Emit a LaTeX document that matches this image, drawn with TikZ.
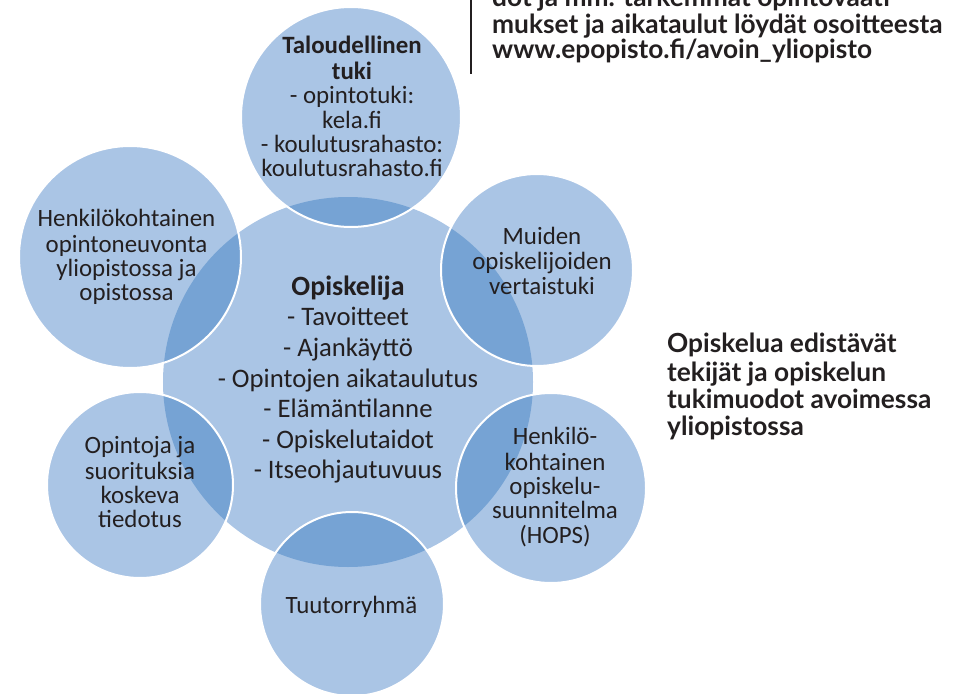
\documentclass[tikz,border=0pt]{standalone}
\usepackage{fontspec}
\setmainfont{Carlito}
\newfontfamily\headfont{Lato}
\definecolor{bubblelight}{RGB}{170,197,229}
\definecolor{bubbledark}{RGB}{118,163,212}
\definecolor{ink}{RGB}{35,31,32}
\begin{document}
\begin{tikzpicture}[x=1bp,y=-1bp,
  bubble/.style={circle, fill=bubblelight, inner sep=0pt, minimum size=#1},
  rim/.style={draw=white, line width=2bp},
  lap/.style={fill=bubbledark},
  bubtext/.style={align=center, text=ink, inner sep=0pt, font=\fontsize{25}{24.4}\selectfont},
  coretext/.style={align=center, text=ink, inner sep=0pt, font=\fontsize{26.8}{30.7}\selectfont},
  headtext/.style={align=left, text=ink, inner sep=0pt, anchor=west, font=\headfont\bfseries\fontsize{26.4}{#1}\selectfont},
  rulestyle/.style={draw=ink, line width=2bp}
]
\useasboundingbox (0,0) rectangle (957,694);
\clip (0,0) rectangle (957,694);

% circles
\node[bubble=370bp] (core) at (348,382) {};
\node[bubble=220bp] (top) at (351,117) {};
\node[bubble=192bp] (peer) at (537,270) {};
\node[bubble=190bp] (hops) at (551,488) {};
\node[bubble=184bp] (tutor) at (352,604) {};
\node[bubble=186bp] (info) at (140,485) {};
\node[bubble=222bp] (advice) at (130,257) {};

% overlaps
\begin{scope}
  \clip (core.center) circle[radius=185];
  \foreach \n/\r in {top/110, peer/96, hops/95, tutor/92, info/93, advice/111}
    \fill[lap] (\n.center) circle[radius=\r];
\end{scope}
\foreach \n/\r in {top/110, peer/96, hops/95, tutor/92, info/93, advice/111}
  \draw[rim] (\n.center) circle[radius=\r];

% texts
\node[coretext] (tcore) at (348,380.9) {\strut{\bfseries\fontsize{28}{30.7}\selectfont Opiskelija}\\- Tavoitteet\\- Ajankäyttö\\- Opintojen aikataulutus\\- Elämäntilanne\\- Opiskelutaidot\\- Itseohjautuvuus\strut};
\node[bubtext] (ttop) at (352,110.2) {\strut\textbf{Taloudellinen}\\\textbf{tuki}\\- opintotuki:\\kela.fi\\- koulutusrahasto:\\koulutusrahasto.fi\strut};
\node[bubtext] (tpeer) at (542,264.2) {\strut Muiden\\opiskelijoiden\\vertaistuki\strut};
\node[bubtext] (thops) at (555,489) {\strut Henkilö-\\kohtainen\\opiskelu-\\suunnitelma\\(HOPS)\strut};
\node[bubtext] (ttutor) at (351.5,608) {\strut Tuutorryhmä\strut};
\node[bubtext] (tinfo) at (140,485.6) {\strut Opintoja ja\\suorituksia\\koskeva\\tiedotus\strut};
\node[bubtext] (tadvice) at (126.5,258.8) {\strut Henkilökohtainen\\opintoneuvonta\\yliopistossa ja\\opistossa\strut};

\node[headtext=27.3] (caption) at (667,388.5) {\strut Opiskelua edistävät\\tekijät ja opiskelun\\tukimuodot avoimessa\\yliopistossa\strut};
\node[headtext=24.5] (note) at (492,26.1) {\strut dot ja mm. tarkemmat opintovaati-\\mukset ja aikataulut löydät osoitteesta\\www.epopisto.fi/avoin\_yliopisto\strut};

\coordinate (ruletop) at (471,0);
\coordinate (rulebot) at (471,74);
\draw[rulestyle] (ruletop) -- (rulebot);
\end{tikzpicture}
\end{document}
